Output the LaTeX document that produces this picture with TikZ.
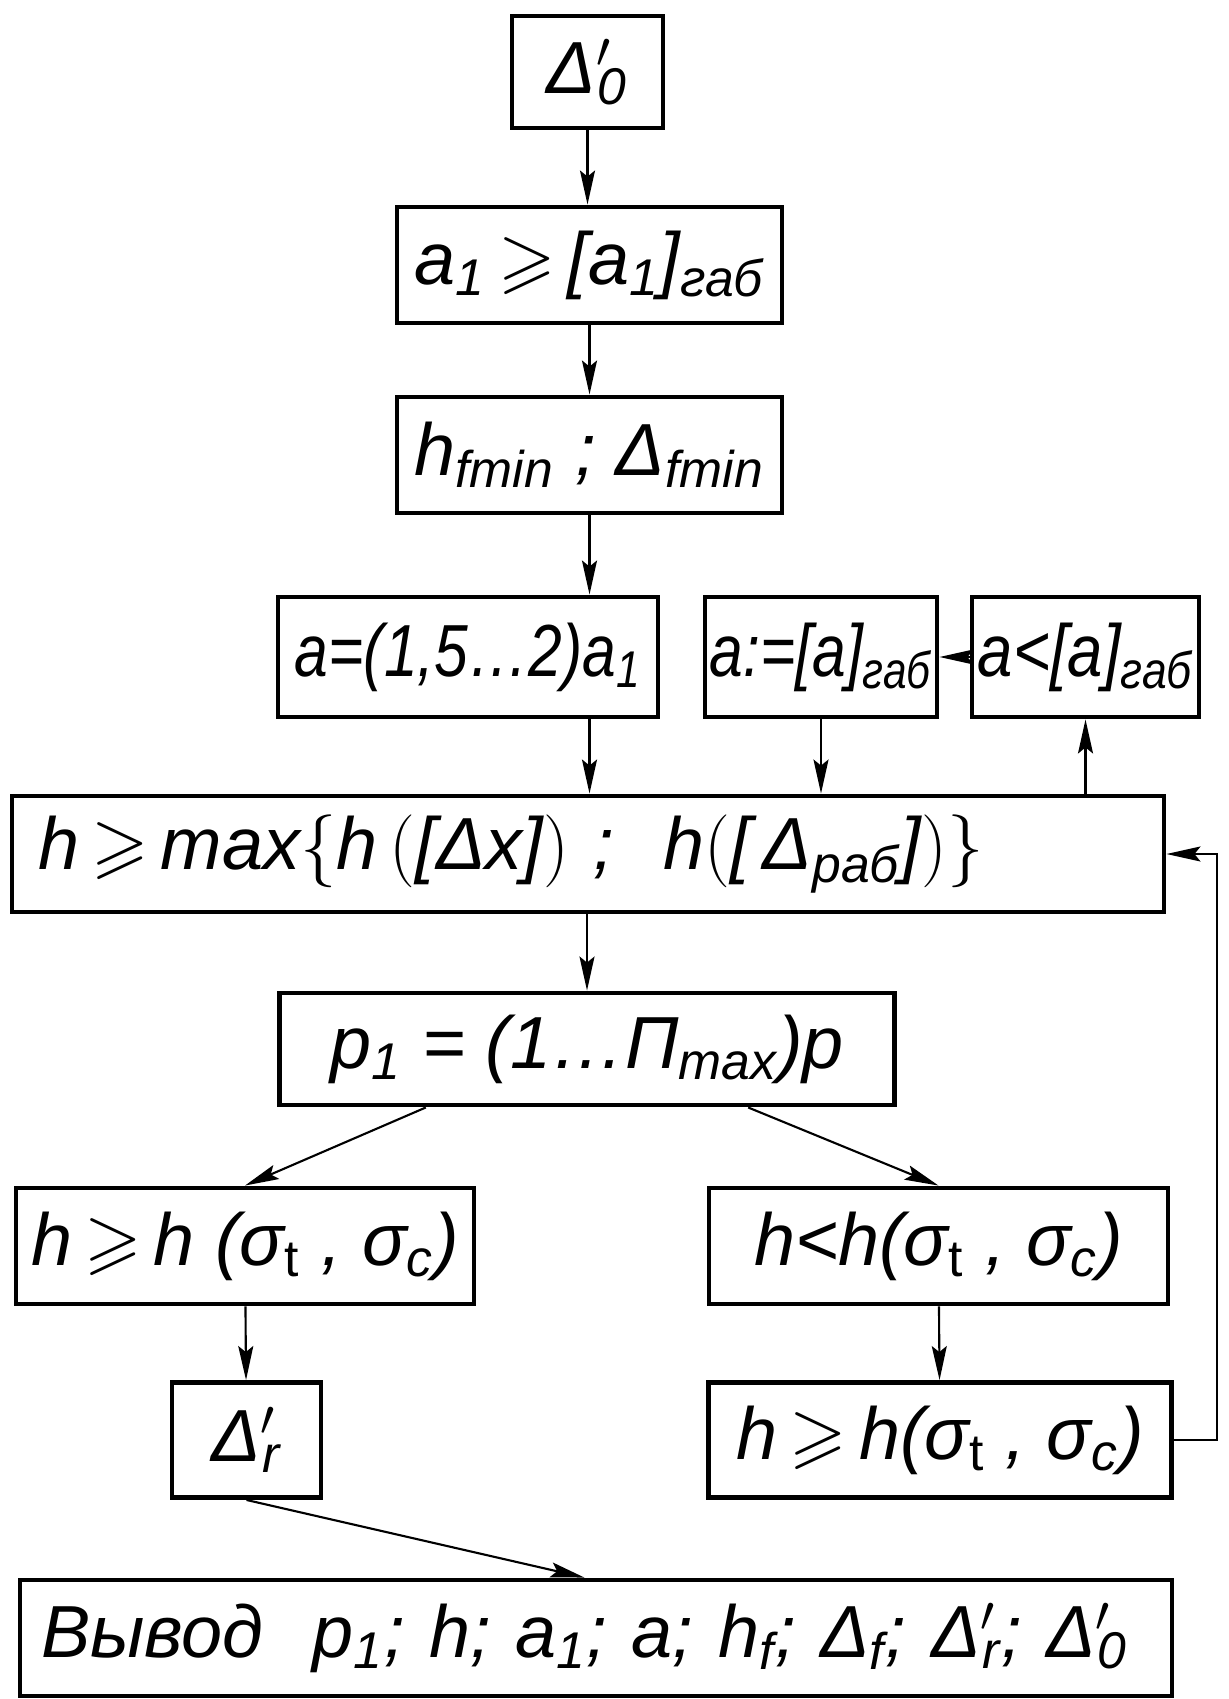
\documentclass[tikz,border=0pt]{standalone}
\usepackage{amssymb}
\usepackage{graphicx}
\usepackage{fontspec}
\setmainfont{Liberation Sans}
\usetikzlibrary{arrows.meta,calc}
\newcommand\low[1]{\textsubscript{#1}}
\newcommand\Dpr[1]{Δ\textsuperscript{\rlap{$\prime$}}\textsubscript{#1}}
\newcommand\gsl{$\,\geqslant\,$}
\newcommand\narrow[2]{\scalebox{#1}[1]{#2}}
\tikzset{
  font=\fontsize{21}{25}\selectfont\itshape,
  box/.style={draw=black, line width=1.4pt, minimum height=11.6mm, inner sep=1pt, align=center},
  arrow/.style={-{Stealth[length=3.4mm,width=1.5mm,inset=0.6mm]}, line width=0.6pt, draw=black}
}
\begin{document}
\begin{tikzpicture}[x=0.1mm,y=-0.1mm]
\useasboundingbox (0,0) rectangle (1229,1699);

% Top chain
\node[box, minimum width=15.1mm, minimum height=11.2mm] (d0) at (587.5,72) {\Dpr{0}};
\node[box, minimum width=38.5mm] (a1) at (589.5,265) {a\low{1}\gsl[a\low{1}]\low{габ}};
\node[box, minimum width=38.5mm] (hf) at (589.5,455) {h\low{fmin} ;\ Δ\low{fmin}};

% Row of a
\node[box, minimum width=38mm, minimum height=12mm] (aa) at (468,657) {\narrow{0.82}{a=(1,5…2)a\low{1}}};
\node[box, minimum width=23.2mm, minimum height=12mm] (aset) at (821,657) {\narrow{0.82}{a:=[a]\low{габ}}};
\node[box, minimum width=22.7mm, minimum height=12mm] (aless) at (1085.5,657) {\narrow{0.86}{a<[a]\low{габ}}};

\node[box, minimum width=115.2mm, text width=110mm, align=left] (hmax) at (588,854)
  {h\gsl max$\Big\{$h\,$\Big($[Δx]$\Big)$ ;\ \ h$\Big($[\,Δ\low{раб}]$\Big)\Big\}$};
\node[box, minimum width=61.5mm, minimum height=11.2mm] (p1) at (587,1049) {p\low{1} = (1…П\low{max})p};

% Branches
\node[box, minimum width=45.8mm] (hge) at (245,1246) {h\gsl h (σ\low{\upshape t} , σ\low{c})};
\node[box, minimum width=45.9mm] (hlt) at (938.5,1246) {h<h(σ\low{\upshape t} , σ\low{c})};
\node[box, minimum width=14.9mm, minimum height=11.5mm] (dr) at (246.5,1440) {\Dpr{r}};
\node[box, minimum width=46.3mm, minimum height=11.5mm] (hge2) at (940,1440) {h\gsl h(σ\low{\upshape t} , σ\low{c})};

\node[box, minimum width=115.2mm, text width=111mm, align=left] (out) at (596,1638)
  {Вывод\ \ p\low{1}; h; a\low{1}; a; h\low{f}; Δ\low{f}; \Dpr{r}; \Dpr{0}};

\draw[arrow] (d0) -- (d0 |- a1.north);
\draw[arrow] (a1) -- (hf);
\draw[arrow] (hf.south) -- (hf.south |- aa.north);
\draw[arrow] (hf.south |- aa.south) -- (hf.south |- hmax.north);
\draw[arrow] (aset) -- (aset |- hmax.north);
\draw[arrow] (aless.south |- hmax.north) -- (aless.south);
\draw[arrow] (aless) -- (aset);
\draw[arrow] (p1.north |- hmax.south) -- (p1.north);
\draw[arrow] ($(p1.south west)!0.24!(p1.south east)$) -- (hge.north);
\draw[arrow] ($(p1.south west)!0.76!(p1.south east)$) -- (hlt.north);
\draw[arrow] (hge) -- (dr);
\draw[arrow] (hlt) -- (hge2);
\draw[arrow] (hge2.east) -- ++(43,0) |- (hmax.east);
\draw[arrow] (dr.south) -- ($(out.north west)!0.49!(out.north east)$);

\end{tikzpicture}
\end{document}
